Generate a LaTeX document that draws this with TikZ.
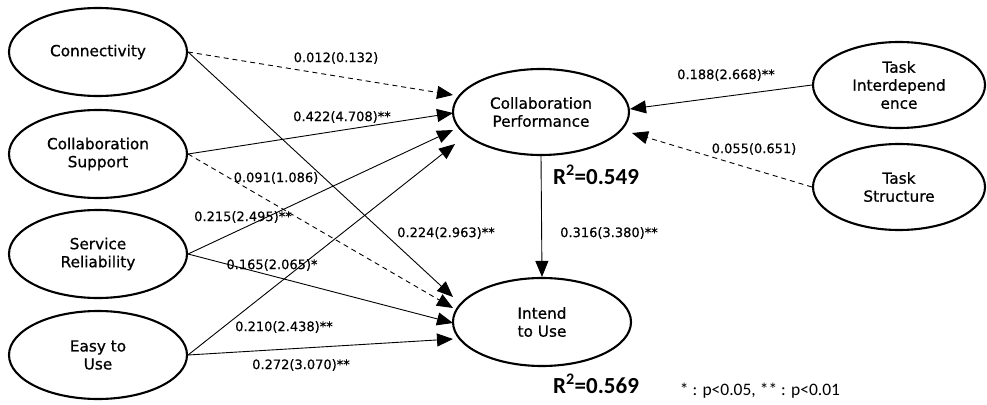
\documentclass[tikz,border=0pt]{standalone}
\usepackage{fontspec}
\setmainfont{DejaVu Sans}
\newfontfamily\nodefont[FakeBold=0.8]{DejaVu Sans}
\newfontfamily\labfont[FakeBold=0.5]{DejaVu Sans}
\newfontfamily\calib{Carlito}
\usetikzlibrary{shapes.geometric,arrows.meta}

\begin{document}
\begin{tikzpicture}[x=1pt,y=-1pt,
  construct/.style={ellipse,draw,line width=2.1pt,minimum width=178pt,minimum height=88pt,
    inner sep=0pt,align=center,font=\nodefont\fontsize{15.3}{18}\selectfont},
  path/.style={line width=0.9pt,-{Triangle[length=16pt,width=13pt]}},
  weak/.style={path,dash pattern=on 5pt off 4pt},
  coef/.style={font=\labfont\fontsize{13}{15}\selectfont,inner sep=0pt},
  rsq/.style={font=\calib\bfseries\fontsize{23}{25}\selectfont,inner sep=0pt},
  note/.style={font=\calib\fontsize{17.5}{19}\selectfont,inner sep=0pt}]

\useasboundingbox (0,0) rectangle (987,404);

% exogenous constructs
\node[construct] (conn) at (98,52)  {Connectivity};
\node[construct] (cs)   at (98,154) {Collaboration\\Support};
\node[construct] (sr)   at (98,254) {Service\\Reliability};
\node[construct] (eu)   at (98,355) {Easy to\\Use};

% endogenous constructs
\node[construct,minimum width=176pt,minimum height=86pt] (cp) at (541,112) {Collaboration\\Performance};
\node[construct] (iu) at (542,322) {Intend\\to Use};

% task characteristics
\node[construct,minimum width=172pt,minimum height=86pt] (ti) at (899,85)  {Task\\Interdepend\\ence};
\node[construct,minimum width=172pt,minimum height=86pt] (ts) at (899,187) {Task\\Structure};

% arrow end points beside the endogenous constructs
\coordinate (cp1) at (453,95);
\coordinate (cp2) at (453,113);
\coordinate (cp3) at (453,130);
\coordinate (cp4) at (455,144);
\coordinate (cp5) at (630,109);
\coordinate (cp6) at (632,133);
\coordinate (iu1) at (453,297);
\coordinate (iu2) at (453,308);
\coordinate (iu3) at (453,323);
\coordinate (iu4) at (453,339);

% paths into Collaboration Performance
\draw[weak] (conn.east) -- (cp1);
\draw[path] (cs.east)   -- (cp2);
\draw[path] (sr.east)   -- (cp3);
\draw[path] (eu.east)   -- (cp4);
\draw[path] (ti.west)   -- (cp5);
\draw[weak] (ts.west)   -- (cp6);

% paths into Intend to Use
\draw[path] (conn.east) -- (iu1);
\draw[weak] (cs.east)   -- (iu2);
\draw[path] (sr.east)   -- (iu3);
\draw[path] (eu.east)   -- (iu4);
\draw[path] (cp.south)  -- (iu.north);

% path coefficients (t-values)
\node[coef] (l1)  at (336,58)  {0.012(0.132)};
\node[coef] (l2)  at (342,117) {0.422(4.708)**};
\node[coef] (l3)  at (276,178) {0.091(1.086)};
\node[coef] (l4)  at (243,217) {0.215(2.495)**};
\node[coef] (l5)  at (446,233) {0.224(2.963)**};
\node[coef] (l6)  at (272,265) {0.165(2.065)*};
\node[coef] (l7)  at (284,327) {0.210(2.438)**};
\node[coef] (l8)  at (301,365) {0.272(3.070)**};
\node[coef] (l9)  at (609,233) {0.316(3.380)**};
\node[coef] (l10) at (726,75)  {0.188(2.668)**};
\node[coef] (l11) at (754,149) {0.055(0.651)};

% explained variance
\node[rsq] (r1) at (596,175) {R\textsuperscript{2}=0.549};
\node[rsq] (r2) at (596,384) {R\textsuperscript{2}=0.569};

% significance legend
\node[note] (sig) at (760,391) {* : p<0.05, ** : p<0.01};
\end{tikzpicture}
\end{document}
